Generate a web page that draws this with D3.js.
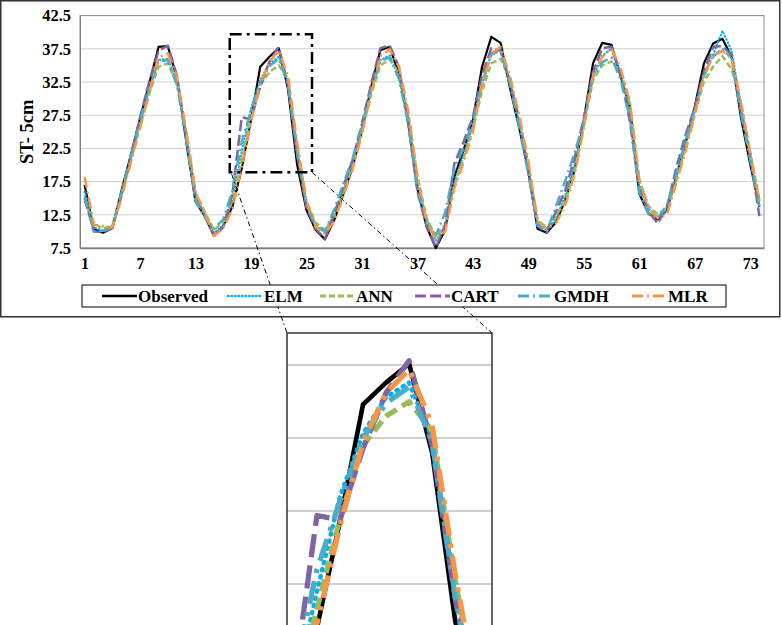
<!DOCTYPE html>
<html>
<head>
<meta charset="utf-8">
<script src="https://cdn.jsdelivr.net/npm/d3@7/dist/d3.min.js"></script>
<style>
  body { margin: 0; background: #fff; }
  text { font-family: "Liberation Serif", "Times New Roman", serif; font-weight: bold; fill: #000; }
</style>
</head>
<body>
<div id="chart"></div>
<script>
// data
const months = [1,2,3,4,5,6,7,8,9,10,11,12,13,14,15,16,17,18,19,20,21,22,23,24,25,26,27,28,29,30,31,32,33,34,35,36,37,
  38,39,40,41,42,43,44,45,46,47,48,49,50,51,52,53,54,55,56,57,58,59,60,61,62,63,64,65,66,67,68,69,70,71,72,73,74];
const xTickLabels = [1, 7, 13, 19, 25, 31, 37, 43, 49, 55, 61, 67, 73];
const yTicks = [7.5, 12.5, 17.5, 22.5, 27.5, 32.5, 37.5, 42.5];

const observed = [17.0,10.3,9.8,10.5,16.2,21.5,27.0,32.3,37.8,37.9,33.0,23.5,14.5,12.3,9.3,10.8,
  13.8,19.5,26.8,34.8,36.3,37.6,31.5,20.0,13.2,10.2,8.8,11.7,
  15.7,19.7,25.2,31.7,37.3,37.8,33.8,26.7,16.5,10.7,7.5,10.2,
  18.2,22.2,26.7,34.8,39.3,38.4,31.7,25.7,19.2,10.4,9.8,11.4,
  14.7,19.2,26.7,35.3,38.4,38.1,33.3,28.7,15.7,12.7,11.8,13.2,
  18.2,23.2,28.7,35.3,38.3,39.0,36.3,27.2,20.2,13.7];
const elm = [16.0,10.6,10.1,10.7,15.6,21.0,26.4,31.4,35.8,36.0,32.6,24.3,15.3,12.6,9.8,10.9,
  15.0,22.0,28.5,32.8,35.3,36.3,32.5,22.0,14.2,11.0,9.8,12.5,
  16.3,20.5,25.6,31.0,35.8,36.5,33.5,27.0,17.6,11.6,8.6,10.8,
  17.5,21.5,26.0,32.0,36.8,37.6,32.6,26.5,19.6,11.2,10.2,11.9,
  15.4,20.0,26.5,33.3,36.5,37.5,33.8,27.8,17.0,13.4,12.2,13.0,
  18.0,23.4,28.4,33.6,36.6,40.2,37.2,29.0,21.2,14.4];
const ann = [14.6,11.2,10.4,10.9,15.8,20.6,25.8,30.8,34.8,35.3,32.2,24.8,15.9,12.9,10.2,11.4,
  14.6,20.8,27.0,32.0,34.0,35.0,33.0,22.8,14.5,11.3,10.2,12.3,
  15.9,20.0,25.0,30.6,35.0,35.9,33.8,27.8,18.3,12.0,9.2,11.0,
  16.8,21.0,25.4,31.2,35.3,36.0,33.0,27.0,20.2,11.8,10.5,12.3,
  14.6,19.0,25.8,32.8,35.0,35.6,34.0,29.2,17.8,13.8,12.6,13.4,
  17.6,22.6,27.6,32.6,34.8,36.4,34.4,29.5,22.0,14.8];
const cart = [15.0,10.0,9.9,10.5,15.4,21.3,27.2,32.6,37.2,38.0,33.4,24.0,15.0,12.4,9.4,10.6,
  15.8,27.2,26.9,31.8,35.6,37.8,32.0,21.5,13.6,10.4,8.9,12.6,
  16.8,20.8,26.2,32.2,37.6,38.0,34.8,26.3,16.0,10.9,7.6,10.9,
  20.2,23.5,27.2,33.5,37.6,37.2,32.4,26.8,19.0,10.8,9.9,13.0,
  16.2,21.0,27.0,34.0,37.6,37.8,33.5,26.5,16.4,13.0,11.2,13.6,
  19.5,24.5,28.6,34.0,37.8,37.9,36.6,28.0,21.5,12.3];
const gmdh = [15.3,10.0,10.1,10.6,15.9,21.4,26.6,31.6,35.6,35.8,32.0,23.8,14.6,12.1,10.4,11.8,
  16.2,23.5,28.2,32.5,34.9,36.0,32.3,21.7,13.9,10.9,10.0,13.3,
  17.2,21.0,26.0,31.3,35.7,36.2,33.0,26.2,16.6,11.6,9.4,12.8,
  19.5,22.5,26.5,32.4,36.6,37.3,32.2,25.8,18.6,11.0,10.0,13.8,
  17.6,21.8,26.5,33.2,35.5,36.2,32.8,27.0,15.9,12.6,12.0,14.0,
  18.6,23.7,28.2,33.4,36.3,37.6,36.0,27.8,20.8,13.8];
const mlr = [18.2,11.0,10.8,10.6,15.1,20.4,25.6,30.9,36.2,36.8,33.2,25.2,15.8,12.8,9.3,10.5,
  13.4,19.8,26.5,32.2,35.6,37.2,33.4,23.2,14.6,10.7,9.6,11.5,
  15.3,19.4,24.6,30.8,36.4,37.4,34.8,28.2,18.2,11.5,8.9,10.0,
  16.5,20.4,25.0,32.2,36.8,37.8,33.5,27.6,20.6,11.6,10.4,11.2,
  14.0,18.5,25.5,33.6,36.3,37.6,34.5,29.5,17.9,13.5,12.0,12.5,
  17.2,22.0,27.5,33.5,36.5,37.2,36.0,29.5,21.8,14.6];

// zoomed window (months, values)
const zoomMonths = [16.7, 25.6];
const zoomValues = [18.9, 39.7];

const series = [
  { name: "Observed", values: observed, color: "#000000", width: 2.2, dash: null,        cap: "butt" },
  { name: "ELM",      values: elm,      color: "#00b0f0", width: 2.2, dash: [0.5, 3],    cap: "round" },
  { name: "ANN",      values: ann,      color: "#9bbb59", width: 2.5, dash: [6, 3],      cap: "butt" },
  { name: "CART",     values: cart,     color: "#8064a2", width: 2.5, dash: [11, 4],     cap: "butt" },
  { name: "GMDH",     values: gmdh,     color: "#4bacc6", width: 2.5, dash: [11, 4, 2, 4], cap: "butt" },
  { name: "MLR",      values: mlr,      color: "#f79646", width: 2.5, dash: [11, 4, 2, 4], cap: "butt" }
];

const W = 782, H = 625;
const svg = d3.select("#chart").append("svg").attr("width", W).attr("height", H);

// outer chart frame
svg.append("rect").attr("x", 0.75).attr("y", 0.75).attr("width", 779).attr("height", 316)
  .attr("fill", "#fff").attr("stroke", "#333").attr("stroke-width", 1.5);

const plotLeft = 80, plotRight = 764, plotTop = 15.6, plotBottom = 248;
const x = d3.scaleLinear().domain([0.5, 74.5]).range([plotLeft, plotRight]);
const y = d3.scaleLinear().domain([7.5, 42.5]).range([plotBottom, plotTop]);

// gridlines
svg.append("g").selectAll("line").data(yTicks).join("line")
  .attr("x1", plotLeft).attr("x2", plotRight)
  .attr("y1", d => y(d)).attr("y2", d => y(d))
  .attr("stroke", "#d0d0d0").attr("stroke-width", 1);

// plot area border
svg.append("rect").attr("x", plotLeft).attr("y", plotTop)
  .attr("width", plotRight - plotLeft).attr("height", plotBottom - plotTop)
  .attr("fill", "none").attr("stroke", "#8c8c8c").attr("stroke-width", 1);

// axes
const yAxis = d3.axisLeft(y).tickValues(yTicks).tickSize(0).tickPadding(9).tickFormat(d3.format(".1f"));
svg.append("g").attr("transform", `translate(${plotLeft},0)`).call(yAxis)
  .call(g => g.select(".domain").attr("stroke", "#7f7f7f"))
  .call(g => g.selectAll("text").style("font-size", "16.5px").attr("font-family", null));

const xAxis = d3.axisBottom(x).tickValues(xTickLabels).tickSize(0).tickPadding(10).tickFormat(d => d);
svg.append("g").attr("transform", `translate(0,${plotBottom})`).call(xAxis)
  .call(g => g.select(".domain").attr("stroke", "#7f7f7f").attr("stroke-width", 1.5))
  .call(g => g.selectAll("text").style("font-size", "16px").attr("font-family", null));

svg.append("text").attr("transform", `translate(33,${(plotTop + plotBottom) / 2}) rotate(-90)`)
  .attr("text-anchor", "middle").style("font-size", "18.5px").text("ST- 5cm");

// series lines
function drawLines(g, xs, ys, scale) {
  const line = d3.line().x((d, i) => xs(months[i])).y(d => ys(d));
  g.selectAll("path.s").data(series).join("path").attr("class", "s")
    .attr("d", d => line(d.values))
    .attr("fill", "none")
    .attr("stroke", d => d.color)
    .attr("stroke-width", d => d.width * scale)
    .attr("stroke-linecap", d => d.cap)
    .attr("stroke-linejoin", "round")
    .attr("stroke-dasharray", d => d.dash ? d.dash.map(v => v * scale).join(",") : null);
}
drawLines(svg.append("g"), x, y, 1);

// zoom box on main chart
const bx0 = x(zoomMonths[0]), bx1 = x(zoomMonths[1]);
const by0 = y(zoomValues[1]), by1 = y(zoomValues[0]);
svg.append("rect").attr("x", bx0).attr("y", by0).attr("width", bx1 - bx0).attr("height", by1 - by0)
  .attr("fill", "none").attr("stroke", "#000").attr("stroke-width", 2.5)
  .attr("stroke-dasharray", "12,5,3,5");

// inset
const il = 287, ir = 492, it = 333;
const xi = d3.scaleLinear().domain(zoomMonths).range([il, ir]);
const pxPerUnit = 14.6;
const ib = it + (zoomValues[1] - zoomValues[0]) * pxPerUnit;
const yi = d3.scaleLinear().domain(zoomValues).range([ib, it]);

// connectors
svg.append("line").attr("x1", bx0 + 2).attr("y1", by1 + 2).attr("x2", il).attr("y2", it)
  .attr("stroke", "#000").attr("stroke-width", 1).attr("stroke-dasharray", "5,3,1.5,3");
svg.append("line").attr("x1", bx1).attr("y1", by1).attr("x2", ir).attr("y2", it)
  .attr("stroke", "#000").attr("stroke-width", 1).attr("stroke-dasharray", "5,3,1.5,3");

svg.append("clipPath").attr("id", "insetClip").append("rect")
  .attr("x", il).attr("y", it).attr("width", ir - il).attr("height", ib - it);
svg.append("rect").attr("x", il).attr("y", it).attr("width", ir - il).attr("height", ib - it)
  .attr("fill", "#fff");
const inset = svg.append("g").attr("clip-path", "url(#insetClip)");
inset.selectAll("line").data(yTicks.filter(v => v > zoomValues[0] && v < zoomValues[1])).join("line")
  .attr("x1", il).attr("x2", ir).attr("y1", d => yi(d)).attr("y2", d => yi(d))
  .attr("stroke", "#bfbfbf").attr("stroke-width", 1.5);
drawLines(inset.append("g"), xi, yi, 2.1);
svg.append("rect").attr("x", il).attr("y", it).attr("width", ir - il).attr("height", ib - it)
  .attr("fill", "none").attr("stroke", "#333").attr("stroke-width", 1.5);

// legend
const legendY = 296;
svg.append("rect").attr("x", 82).attr("y", 285).attr("width", 644).attr("height", 22)
  .attr("fill", "#fff").attr("stroke", "#000").attr("stroke-width", 1);
const legendStarts = [102, 228, 320, 415, 518, 632];
const lg = svg.append("g").selectAll("g").data(series).join("g")
  .attr("transform", (d, i) => `translate(${legendStarts[i]},${legendY})`);
lg.append("line").attr("x1", 0).attr("x2", 35).attr("y1", 0).attr("y2", 0)
  .attr("stroke", d => d.color).attr("stroke-width", d => d.width + 0.3)
  .attr("stroke-linecap", d => d.cap)
  .attr("stroke-dasharray", d => d.dash ? d.dash.join(",") : null);
lg.append("text").attr("x", 36).attr("y", 6).style("font-size", "17px").text(d => d.name);
</script>
</body>
</html>
